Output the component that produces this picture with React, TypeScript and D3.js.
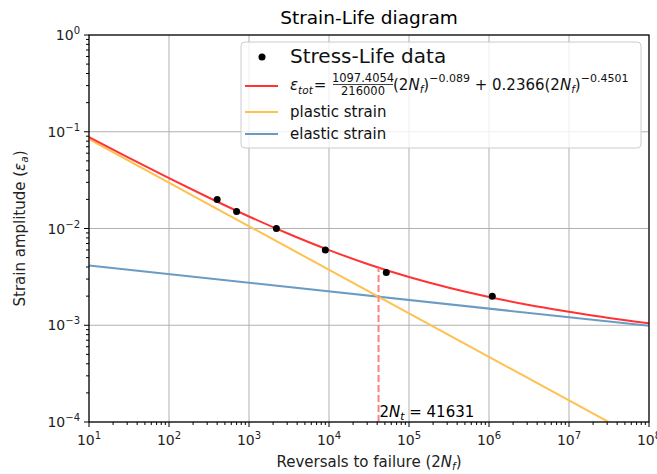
import * as d3 from 'd3';

// Stress-life data points
const dataReversals = [400, 700, 2200, 9000, 52000, 1.1e6];
const dataStrain = [0.02, 0.015, 0.01, 0.006, 0.0035, 0.002];

// total strain curve, read at half decades
const curveReversals = [10, 31.6, 100, 316, 1e3, 3160, 1e4, 31600, 1e5, 316000, 1e6, 3.16e6, 1e7, 3.16e7, 1e8];
const totalStrain = [0.0881, 0.0537, 0.0331, 0.0208, 0.0133, 0.00877, 0.00598, 0.00425, 0.00315, 0.00244, 0.00196, 0.00162, 0.00138, 0.00119, 0.00105];

const plasticReversals = [10, 1e8];
const plasticStrain = [0.0839, 5.93e-5];
const elasticReversals = [10, 1e8];
const elasticStrain = [0.00414, 0.000986];

const transitionReversals = 41631;
const transitionStrain = 0.00394;

const xExponents = [1, 2, 3, 4, 5, 6, 7, 8];
const yExponents = [-4, -3, -2, -1, 0];

const W = 657;
const H = 474;
const m = { left: 89, right: 649, top: 35, bottom: 422 };
const font = 'DejaVu Sans, sans-serif';

const RED = '#ff3333';
const ORANGE = '#ffc04d';
const BLUE = '#6b9bc3';

export default function App() {
  const x = d3.scaleLog().domain([10, 1e8]).range([m.left, m.right]);
  const y = d3.scaleLog().domain([1e-4, 1]).range([m.bottom, m.top]);

  const line = d3.line<[number, number]>()
    .x(d => x(d[0]))
    .y(d => y(d[1]));
  const smooth = d3.line<[number, number]>()
    .x(d => x(d[0]))
    .y(d => y(d[1]))
    .curve(d3.curveMonotoneX);

  const total = curveReversals.map((r, i) => [r, totalStrain[i]] as [number, number]);
  const plastic = plasticReversals.map((r, i) => [r, plasticStrain[i]] as [number, number]);
  const elastic = elasticReversals.map((r, i) => [r, elasticStrain[i]] as [number, number]);

  const minorX: number[] = [];
  xExponents.slice(0, -1).forEach(e => {
    for (let k = 2; k < 10; k++) minorX.push(k * Math.pow(10, e));
  });
  const minorY: number[] = [];
  yExponents.slice(0, -1).forEach(e => {
    for (let k = 2; k < 10; k++) minorY.push(k * Math.pow(10, e));
  });

  const supFs = 10;
  const tickFs = 14;

  return (
    <div style={{ position: 'absolute', left: 0, top: 0 }}>
      <svg width={W} height={H} style={{ display: 'block', fontFamily: font }}>
        <defs>
          <clipPath id="plot">
            <rect x={m.left} y={m.top} width={m.right - m.left} height={m.bottom - m.top} />
          </clipPath>
        </defs>
        <rect width={W} height={H} fill="#fff" />

        {/* grid */}
        <g stroke="#b0b0b0" strokeWidth={1}>
          {xExponents.map(e => (
            <line key={'gx' + e} x1={x(Math.pow(10, e))} x2={x(Math.pow(10, e))} y1={m.top} y2={m.bottom} />
          ))}
          {yExponents.map(e => (
            <line key={'gy' + e} y1={y(Math.pow(10, e))} y2={y(Math.pow(10, e))} x1={m.left} x2={m.right} />
          ))}
        </g>

        <g clipPath="url(#plot)" fill="none" strokeWidth={2}>
          <path d={line(elastic) || ''} stroke={BLUE} />
          <path d={line(plastic) || ''} stroke={ORANGE} />
          <path d={smooth(total) || ''} stroke={RED} />
          <line x1={x(transitionReversals)} x2={x(transitionReversals)} y1={m.bottom} y2={y(transitionStrain)}
            stroke="#ff8080" strokeDasharray="7,3" />
        </g>

        {dataReversals.map((r, i) => (
          <circle key={'d' + i} cx={x(r)} cy={y(dataStrain[i])} r={3.5} fill="#000" />
        ))}

        <text x={x(transitionReversals) + 1} y={m.bottom - 5} fontSize={15} fill="#000">
          2<tspan fontStyle="italic">N</tspan><tspan fontStyle="italic" fontSize={10.5} dy={3}>t</tspan><tspan dy={-3}> = 41631</tspan>
        </text>

        {/* spines */}
        <rect x={m.left} y={m.top} width={m.right - m.left} height={m.bottom - m.top} fill="none" stroke="#000" strokeWidth={1.2} />

        {/* ticks */}
        <g stroke="#000" strokeWidth={1}>
          {xExponents.map(e => (
            <line key={'tx' + e} x1={x(Math.pow(10, e))} x2={x(Math.pow(10, e))} y1={m.bottom} y2={m.bottom + 5} />
          ))}
          {minorX.map(v => (
            <line key={'mx' + v} x1={x(v)} x2={x(v)} y1={m.bottom} y2={m.bottom + 3} />
          ))}
          {yExponents.map(e => (
            <line key={'ty' + e} y1={y(Math.pow(10, e))} y2={y(Math.pow(10, e))} x1={m.left - 5} x2={m.left} />
          ))}
          {minorY.map(v => (
            <line key={'my' + v} y1={y(v)} y2={y(v)} x1={m.left - 3} x2={m.left} />
          ))}
        </g>

        {/* tick labels */}
        <g fontSize={tickFs} fill="#222">
          {xExponents.map(e => (
            <text key={'lx' + e} x={x(Math.pow(10, e))} y={m.bottom + 23} textAnchor="middle">
              10<tspan fontSize={supFs} dy={-6}>{e}</tspan>
            </text>
          ))}
          {yExponents.map(e => (
            <text key={'ly' + e} x={m.left - 9} y={y(Math.pow(10, e)) + 5} textAnchor="end">
              10<tspan fontSize={supFs} dy={-6}>{e < 0 ? '\u2212' + -e : e}</tspan>
            </text>
          ))}
        </g>

        {/* axis labels */}
        <text x={(m.left + m.right) / 2} y={467} textAnchor="middle" fontSize={15} fill="#222">
          Reversals to failure (2<tspan fontStyle="italic">N</tspan><tspan fontStyle="italic" fontSize={10.5} dy={3}>f</tspan><tspan dy={-3}>)</tspan>
        </text>
        <text transform={`translate(25,${(m.top + m.bottom) / 2}) rotate(-90)`} textAnchor="middle" fontSize={15} fill="#222">
          Strain amplitude (<tspan fontStyle="italic">ε</tspan><tspan fontStyle="italic" fontSize={10.5} dy={3}>a</tspan><tspan dy={-3}>)</tspan>
        </text>

        <text x={(m.left + m.right) / 2} y={24} textAnchor="middle" fontSize={18.5} fill="#000">Strain-Life diagram</text>

        {/* legend */}
        <g>
          <rect x={241} y={42} width={400} height={106} rx={4} fill="#fff" fillOpacity={0.8} stroke="#cccccc" />
          <circle cx={262} cy={57} r={3.5} fill="#000" />
          <text x={290} y={63} fontSize={20} fill="#111">Stress-Life data</text>

          <line x1={245} x2={278} y1={86} y2={86} stroke={RED} strokeWidth={2} />
          <text x={290} y={90} fontSize={15} fill="#111">
            <tspan fontStyle="italic">ε</tspan><tspan fontStyle="italic" fontSize={10.5} dy={4}>tot</tspan><tspan dy={-4} dx={1}>=</tspan>
          </text>
          <text x={363} y={82} fontSize={11.5} textAnchor="middle" fill="#111">1097.4054</text>
          <line x1={333} x2={393} y1={84.5} y2={84.5} stroke="#111" strokeWidth={0.8} />
          <text x={363} y={95} fontSize={11.5} textAnchor="middle" fill="#111">216000</text>
          <text x={393} y={90} fontSize={15} fill="#111">
            (2<tspan fontStyle="italic">N</tspan><tspan fontStyle="italic" fontSize={10.5} dy={3}>f</tspan><tspan dy={-3}>)</tspan>
            <tspan fontSize={11} dy={-8}>−0.089</tspan><tspan dy={8}> + 0.2366(2</tspan><tspan fontStyle="italic">N</tspan>
            <tspan fontStyle="italic" fontSize={10.5} dy={3}>f</tspan><tspan dy={-3}>)</tspan>
            <tspan fontSize={11} dy={-8}>−0.4501</tspan>
          </text>

          <line x1={245} x2={278} y1={112} y2={112} stroke={ORANGE} strokeWidth={2} />
          <text x={290} y={117} fontSize={15} fill="#111">plastic strain</text>
          <line x1={245} x2={278} y1={134} y2={134} stroke={BLUE} strokeWidth={2} />
          <text x={290} y={139} fontSize={15} fill="#111">elastic strain</text>
        </g>
      </svg>
    </div>
  );
}
